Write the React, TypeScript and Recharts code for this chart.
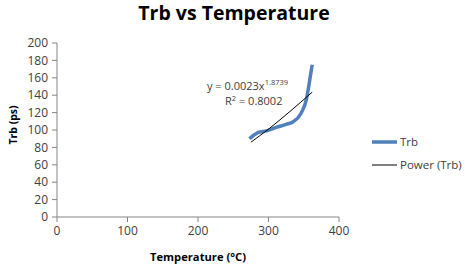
import React from "react";
import { ComposedChart, Line, XAxis, YAxis, Customized } from "recharts";

const temperatures = [273, 285, 297, 311, 325, 335, 346, 354, 358, 362];
const trbValues = [90, 97, 99, 103, 106.5, 109.5, 119, 136, 155, 175];
const trendTemps = [275, 300, 330, 362];
const trendValues = [86, 101, 121, 143.5];
const xTicks = [0, 100, 200, 300, 400];
const yTicks = [0, 20, 40, 60, 80, 100, 120, 140, 160, 180, 200];

const trbData = temperatures.map((t, i) => ({ t, v: trbValues[i] }));
const trendData = trendTemps.map((t, i) => ({ t, v: trendValues[i] }));

const FONT = "'Open Sans', sans-serif";
const AXIS = "#868686";
const TEXT = "#404040";

const Overlay = () => (
  <g fontFamily={FONT}>
    <text x={234} y={20} textAnchor="middle" fontSize={19.5} fontWeight="bold" fill="#000">
      Trb vs Temperature
    </text>
    <text x={198} y={261} textAnchor="middle" fontSize={11.2} fontWeight="bold" fill="#000">
      Temperature (°C)
    </text>
    <text
      x={0}
      y={0}
      transform="translate(17,125) rotate(-90)"
      textAnchor="middle"
      fontSize={10.5}
      fontWeight="bold"
      fill="#000"
    >
      Trb (ps)
    </text>
    <text x={207} y={90} fontSize={11} fill={TEXT}>
      y = 0.0023x
      <tspan dy={-5} fontSize={7.5}>1.8739</tspan>
    </text>
    <text x={225} y={105} fontSize={11} fill={TEXT}>
      R
      <tspan dy={-4} fontSize={7.5}>2</tspan>
      <tspan dy={4}> = 0.8002</tspan>
    </text>
    <line x1={372} y1={142} x2={397} y2={142} stroke="#4F81BD" strokeWidth={3.5} />
    <text x={400} y={146} fontSize={11.5} fill={TEXT}>Trb</text>
    <line x1={372} y1={165} x2={397} y2={165} stroke="#000" strokeWidth={1} />
    <text x={400} y={169} fontSize={11.5} fill={TEXT}>Power (Trb)</text>
  </g>
);

export default function App() {
  return (
    <div style={{ position: "absolute", left: 0, top: 0, width: 465, height: 274, background: "#fff" }}>
      <ComposedChart
        width={465}
        height={274}
        margin={{ top: 43, right: 126, bottom: 27, left: 0 }}
      >
        <XAxis
          type="number"
          dataKey="t"
          domain={[0, 400]}
          ticks={xTicks}
          allowDuplicatedCategory={false}
          stroke={AXIS}
          tickSize={5}
          tickMargin={4}
          height={30}
          tick={{ fontSize: 12, fill: TEXT, fontFamily: FONT }}
        />
        <YAxis
          type="number"
          dataKey="v"
          domain={[0, 200]}
          ticks={yTicks}
          interval={0}
          stroke={AXIS}
          tickSize={5}
          tickMargin={4}
          width={57}
          tick={{ fontSize: 12, fill: TEXT, fontFamily: FONT }}
        />
        <Line
          data={trbData}
          dataKey="v"
          type="monotone"
          stroke="#4F81BD"
          strokeWidth={3.5}
          dot={false}
          isAnimationActive={false}
        />
        <Line
          data={trendData}
          dataKey="v"
          type="monotone"
          stroke="#000"
          strokeWidth={1}
          dot={false}
          isAnimationActive={false}
        />
        <Customized component={Overlay} />
      </ComposedChart>
    </div>
  );
}
